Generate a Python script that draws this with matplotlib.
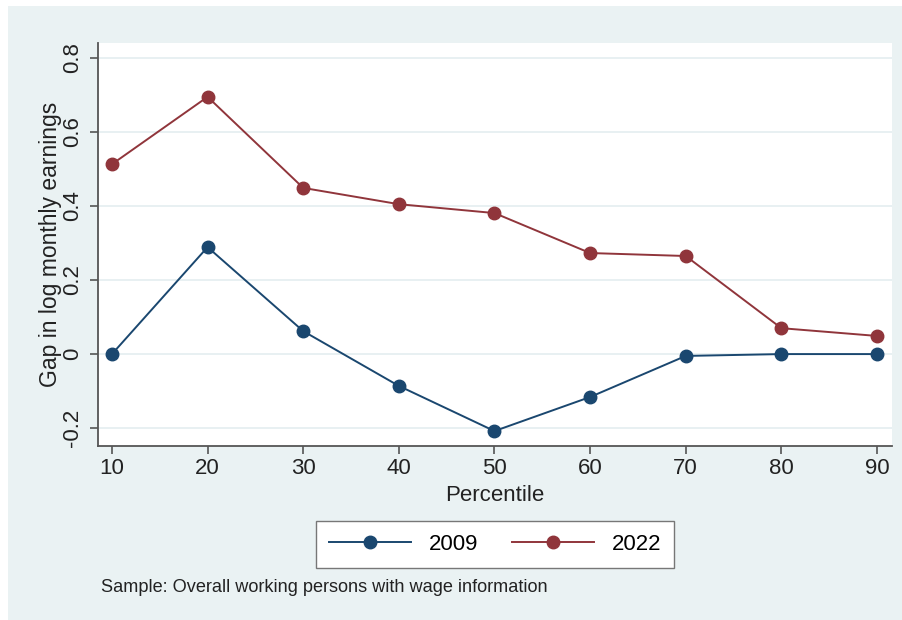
import matplotlib.pyplot as plt
from matplotlib.patches import Rectangle

# percentile gaps in log monthly earnings
percentiles = [10, 20, 30, 40, 50, 60, 70, 80, 90]
gap_2009 = [0.0, 0.289, 0.062, -0.086, -0.208, -0.116, -0.005, 0.0, 0.0]
gap_2022 = [0.513, 0.695, 0.449, 0.405, 0.381, 0.273, 0.265, 0.070, 0.049]
yticks = [-0.2, 0, 0.2, 0.4, 0.6, 0.8]
yticklabels = ['-0.2', '0', '0.2', '0.4', '0.6', '0.8']

plt.rcParams['font.family'] = ['Liberation Sans', 'DejaVu Sans']

bg = '#eaf2f3'
navy = '#1a476f'
maroon = '#90353b'
axis_col = '#555555'

fig = plt.figure(figsize=(9.03, 6.2), dpi=100, facecolor='white')
fig.patches.append(Rectangle((8 / 903, 0), 1, 1 - 6 / 620, transform=fig.transFigure,
                             facecolor=bg, edgecolor='none', zorder=-5))

ax = fig.add_axes([98 / 903, 1 - 445.5 / 620, (892 - 98) / 903, (445.5 - 43) / 620])
ax.set_zorder(2)
ax.set_facecolor('white')

ax.plot(percentiles, gap_2009, color=navy, lw=1.4, marker='o', ms=9, label='2009')
ax.plot(percentiles, gap_2022, color=maroon, lw=1.4, marker='o', ms=9, label='2022')

ax.set_xlim(8.54, 91.57)
ax.set_ylim(-0.247, 0.8405)
ax.set_xticks(percentiles)
ax.set_yticks(yticks)
ax.set_yticklabels(yticklabels, rotation=90, va='center')
ax.grid(axis='y', color='#e6eff1', lw=1.3)
ax.set_axisbelow(True)

for side in ['top', 'right']:
    ax.spines[side].set_visible(False)
for side in ['left', 'bottom']:
    ax.spines[side].set_color(axis_col)
    ax.spines[side].set_linewidth(1.3)
ax.tick_params(colors=axis_col, labelcolor='#222222', length=6, width=1.2,
               labelsize=16, pad=3)
ax.tick_params(axis='y', pad=4.5)

ax.set_xlabel('Percentile', fontsize=16, color='#222222', labelpad=4)
ax.set_ylabel('Gap in log monthly earnings', fontsize=16.5, color='#222222', labelpad=0)

leg = fig.legend(loc='center', bbox_to_anchor=(495 / 903, 1 - 544.5 / 620), ncol=2,
                 fontsize=16, handlelength=3.7, columnspacing=1.5, borderpad=0.6,
                 borderaxespad=0, fancybox=False, framealpha=1, edgecolor='#777777')
leg.get_frame().set_linewidth(1.0)
leg.set_zorder(3)

fig.text(101 / 903, 1 - 587 / 620, 'Sample: Overall working persons with wage information',
         fontsize=13.1, color='#222222', va='center', zorder=3)

fig.savefig('out.png', dpi=100, facecolor='white')
